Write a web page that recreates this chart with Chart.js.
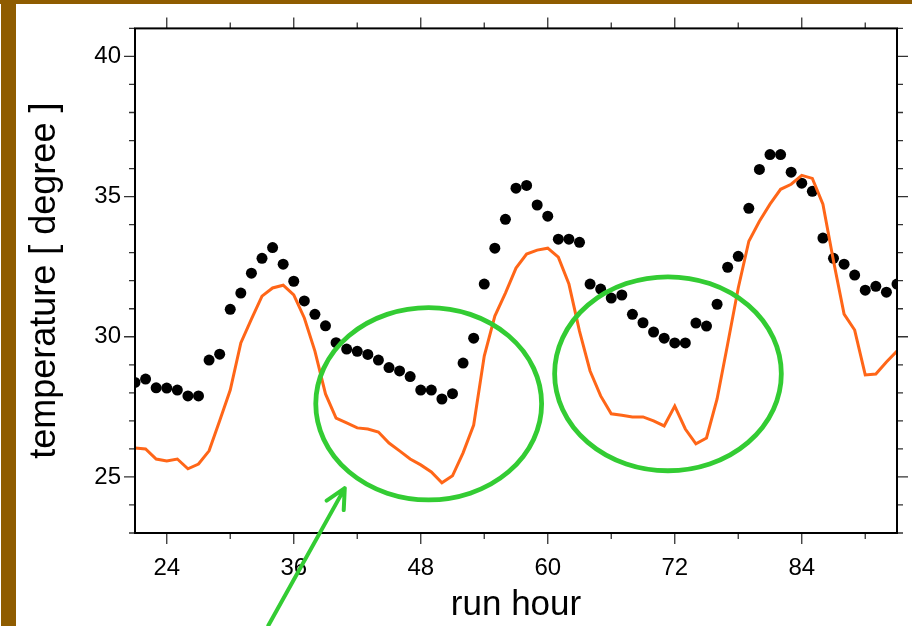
<!DOCTYPE html>
<html>
<head>
<meta charset="utf-8">
<script src="https://cdn.jsdelivr.net/npm/chart.js@4/dist/chart.umd.min.js"></script>
<style>
  body { margin: 0; background: #fff; }
  canvas { display: block; }
</style>
</head>
<body>
<canvas id="temp_chart" width="912" height="626"></canvas>
<script>
// run hours 21..93, one reading per hour
const hours = [
    21, 22, 23, 24, 25, 26, 27, 28, 29, 30, 31, 32, 33, 34, 35, 36, 37, 38, 39, 40,
    41, 42, 43, 44, 45, 46, 47, 48, 49, 50, 51, 52, 53, 54, 55, 56, 57, 58, 59, 60,
    61, 62, 63, 64, 65, 66, 67, 68, 69, 70, 71, 72, 73, 74, 75, 76, 77, 78, 79, 80,
    81, 82, 83, 84, 85, 86, 87, 88, 89, 90, 91, 92, 93
];

// black dots
const observed = [
    28.37, 28.49, 28.18, 28.17, 28.10, 27.89, 27.89, 29.17, 29.38, 30.98,
    31.56, 32.27, 32.80, 33.18, 32.59, 31.98, 31.28, 30.80, 30.39, 29.79,
    29.56, 29.48, 29.37, 29.17, 28.90, 28.78, 28.58, 28.10, 28.10, 27.78,
    27.97, 29.06, 29.95, 31.88, 33.16, 34.19, 35.30, 35.40, 34.70, 34.30,
    33.48, 33.48, 33.37, 31.88, 31.70, 31.38, 31.49, 30.80, 30.50, 30.17,
    29.95, 29.78, 29.78, 30.49, 30.38, 31.16, 32.48, 32.87, 34.58, 35.97,
    36.50, 36.50, 35.87, 35.48, 35.19, 33.52, 32.80, 32.59, 32.20, 31.66,
    31.80, 31.59, 31.88
];

// orange line
const model = [
    26.03, 26.00, 25.64, 25.57, 25.64, 25.29, 25.46, 25.93, 27.00, 28.10,
    29.78, 30.63, 31.45, 31.74, 31.84, 31.49, 30.67, 29.49, 27.96, 27.10,
    26.93, 26.75, 26.71, 26.60, 26.21, 25.93, 25.64, 25.43, 25.18, 24.79,
    25.04, 25.86, 26.85, 29.31, 30.74, 31.56, 32.45, 32.95, 33.09, 33.16,
    32.84, 31.88, 30.20, 28.78, 27.89, 27.25, 27.20, 27.14, 27.14, 27.00,
    26.82, 27.53, 26.71, 26.18, 26.39, 27.78, 29.74, 31.74, 33.41, 34.12,
    34.73, 35.26, 35.44, 35.76, 35.65, 34.73, 32.70, 30.81, 30.24, 28.64,
    28.67, 29.10, 29.49
];

const xTicks = [24, 36, 48, 60, 72, 84];
const xMinorTicks = [24, 30, 36, 42, 48, 54, 60, 66, 72, 78, 84, 90];
const yTicks = [25, 30, 35, 40];
const yMinorTicks = [23, 24, 25, 26, 27, 28, 29, 30, 31, 32, 33, 34, 35, 36, 37, 38, 39, 40, 41];

const green = '#33cc33';
const brown = '#8f5c00';

// green highlight circles, in data units (hours / degrees)
const highlights = [
    { x: 48.75, y: 27.61, rx: 10.67, ry: 3.43 },
    { x: 71.36, y: 28.68, rx: 10.71, ry: 3.46 }
];
// arrow pointing at the first circle
const arrow = { fromX: 33.6, fromY: 19.7, toX: 40.82, toY: 24.6 };

const slide_plugin = {
    id: 'slide_plugin',
    beforeDraw(chart) {
        const ctx = chart.ctx;
        ctx.save();
        ctx.fillStyle = '#ffffff';
        ctx.fillRect(0, 0, chart.width, chart.height);
        ctx.fillStyle = brown;
        ctx.fillRect(0, 0, chart.width, 4);
        ctx.fillRect(1, 0, 15, chart.height);
        ctx.restore();
    },
    afterDatasetsDraw(chart) {
        const ctx = chart.ctx;
        const a = chart.chartArea;
        const xs = chart.scales.x;
        const ys = chart.scales.y;
        ctx.save();
        // ticks on all four sides, pointing out
        ctx.strokeStyle = '#333';
        ctx.lineWidth = 1.3;
        ctx.beginPath();
        xMinorTicks.forEach(v => {
            const len = xTicks.includes(v) ? 11 : 6;
            const px = xs.getPixelForValue(v);
            ctx.moveTo(px, a.bottom); ctx.lineTo(px, a.bottom + len);
            ctx.moveTo(px, a.top); ctx.lineTo(px, a.top - len);
        });
        yMinorTicks.forEach(v => {
            const len = yTicks.includes(v) ? 11 : 6;
            const py = ys.getPixelForValue(v);
            ctx.moveTo(a.left, py); ctx.lineTo(a.left - len, py);
            ctx.moveTo(a.right, py); ctx.lineTo(a.right + len, py);
        });
        ctx.stroke();
        // frame
        ctx.strokeStyle = '#000';
        ctx.lineWidth = 2;
        ctx.strokeRect(a.left, a.top, a.right - a.left, a.bottom - a.top);
        ctx.restore();
    },
    afterDraw(chart) {
        const ctx = chart.ctx;
        const xs = chart.scales.x;
        const ys = chart.scales.y;
        ctx.save();
        ctx.strokeStyle = green;
        ctx.lineWidth = 4.8;
        highlights.forEach(h => {
            const cx = xs.getPixelForValue(h.x);
            const cy = ys.getPixelForValue(h.y);
            const rx = Math.abs(xs.getPixelForValue(h.x + h.rx) - cx);
            const ry = Math.abs(ys.getPixelForValue(h.y + h.ry) - cy);
            ctx.beginPath();
            ctx.ellipse(cx, cy, rx, ry, 0, 0, Math.PI * 2);
            ctx.stroke();
        });

        const x0 = xs.getPixelForValue(arrow.fromX), y0 = ys.getPixelForValue(arrow.fromY);
        const x1 = xs.getPixelForValue(arrow.toX), y1 = ys.getPixelForValue(arrow.toY);
        const ang = Math.atan2(y1 - y0, x1 - x0);
        const head = 22, spread = 0.46;
        ctx.lineWidth = 4;
        ctx.lineCap = 'round';
        ctx.lineJoin = 'round';
        ctx.beginPath();
        ctx.moveTo(x0, y0);
        ctx.lineTo(x1, y1);
        ctx.moveTo(x1 - head * Math.cos(ang - spread), y1 - head * Math.sin(ang - spread));
        ctx.lineTo(x1, y1);
        ctx.lineTo(x1 - head * Math.cos(ang + spread), y1 - head * Math.sin(ang + spread));
        ctx.stroke();
        ctx.restore();
    }
};

const temp_config = {
    type: 'scatter',
    data: {
        datasets: [
            {
                label: 'model',
                type: 'line',
                data: hours.map((h, i) => ({ x: h, y: model[i] })),
                borderColor: '#ff6618',
                borderWidth: 3,
                pointRadius: 0,
                tension: 0,
                fill: false,
                clip: 0
            },
            {
                label: 'observed',
                data: hours.map((h, i) => ({ x: h, y: observed[i] })),
                backgroundColor: '#000',
                borderWidth: 0,
                pointRadius: 5.5,
                clip: 0
            }
        ]
    },
    options: {
        responsive: false,
        animation: false,
        layout: { padding: { left: 0, right: 15, top: 27, bottom: 0 } },
        plugins: {
            legend: { display: false },
            tooltip: { enabled: false }
        },
        scales: {
            x: {
                type: 'linear',
                min: 21,
                max: 93,
                afterBuildTicks: scale => { scale.ticks = xTicks.map(v => ({ value: v })); },
                afterFit: scale => { scale.height = 93; },
                grid: { display: false, drawTicks: false },
                border: { display: false },
                ticks: {
                    padding: 21,
                    color: '#000',
                    font: { family: 'Liberation Sans', size: 24 }
                },
                title: {
                    display: true,
                    text: 'run hour',
                    color: '#000',
                    padding: 0,
                    font: { family: 'Liberation Sans', size: 35 }
                }
            },
            y: {
                min: 23,
                max: 41,
                afterBuildTicks: scale => { scale.ticks = yTicks.map(v => ({ value: v })); },
                afterFit: scale => { scale.width = 135; },
                grid: { display: false, drawTicks: false },
                border: { display: false },
                ticks: {
                    padding: 14,
                    color: '#000',
                    font: { family: 'Liberation Sans', size: 24 }
                },
                title: {
                    display: true,
                    text: 'temperature [ degree ]',
                    color: '#000',
                    padding: { top: 23, bottom: 0 },
                    font: { family: 'Liberation Sans', size: 36 }
                }
            }
        }
    },
    plugins: [slide_plugin]
};

new Chart(document.getElementById('temp_chart'), temp_config);
</script>
</body>
</html>
